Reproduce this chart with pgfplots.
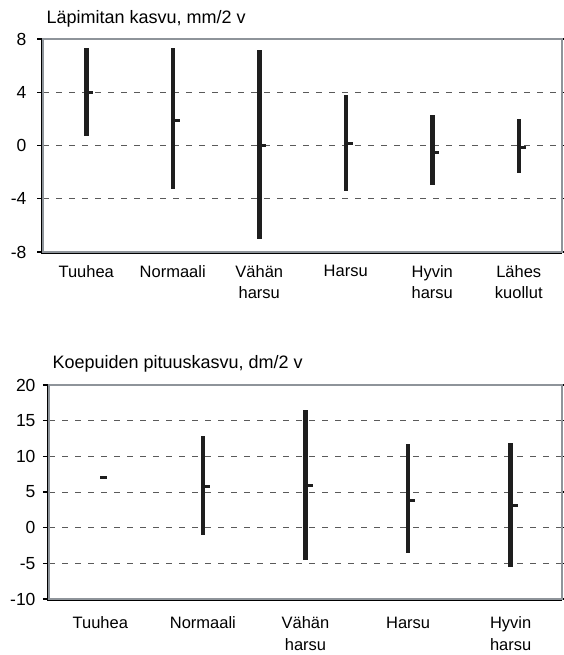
\documentclass[border=0pt]{standalone}
\usepackage{pgfplots}
\pgfplotsset{compat=1.18}
\usepackage{pgfplotstable}
\usepackage{fontspec}
\setmainfont{Liberation Sans}
\definecolor{frame}{HTML}{8E949A}
\definecolor{gridc}{HTML}{5A5A5A}
\definecolor{barc}{HTML}{1E1E1E}
\pgfdeclareplotmark{meandash}{%
  \pgfpathmoveto{\pgfqpoint{0pt}{0pt}}%
  \pgfpathlineto{\pgfqpoint{7pt}{0pt}}%
  \pgfusepathqstroke}

\pgfplotstableread{
x low high mean
1 0.73 7.35 3.95
2 -3.3 7.3 1.85
3 -7.0 7.2 0.0
4 -3.4 3.8 0.12
5 -3.0 2.3 -0.5
6 -2.1 2.0 -0.13
}\topdata

\pgfplotstableread{
x low high mean
1 7.05 7.05 7.05
2 -1.0 12.9 5.8
3 -4.5 16.5 5.9
4 -3.6 11.7 3.85
5 -5.45 11.85 3.1
}\botdata

\pgfplotsset{mystyle/.style={
  scale only axis,
  axis line style={draw=frame, line width=1.6pt},
  ymajorgrids,
  grid style={draw=gridc, dash pattern=on 6pt off 7pt, line width=0.8pt},
  xtick style={draw=none},
  ytick style={draw=black, line width=1.1pt},
  tick align=outside,
  major tick length=6pt,
  ticklabel style={font=\fontsize{16.5}{21.5}\selectfont},
  yticklabel style={font=\fontsize{17.5}{21.5}\selectfont},
  xticklabel style={align=center},
  clip=false,
}}
\pgfplotsset{errstyle/.style={
  draw=none, mark=meandash, mark options={draw=barc, line width=3pt},
  error bars/.cd, y dir=both, y explicit, error mark=none,
  error bar style={draw=barc, line width=4.5pt}
}}

\begin{document}
\begin{tikzpicture}
\useasboundingbox (0,0) rectangle (563pt,-655pt);
% top chart
\begin{axis}[mystyle, name=top,
  at={(43pt,-252pt)}, anchor=south west,
  width=519pt, height=213pt,
  xmin=0.5, xmax=6.5, ymin=-8, ymax=8,
  xtick={1,2,3,4,5,6},
  xticklabels={Tuuhea, Normaali, {Vähän\\harsu}, Harsu, {Hyvin\\harsu}, {Lähes\\kuollut}},
  xticklabel style={yshift=-4pt},
  ytick={-8,-4,0,4,8},
  yticklabels={-8,-4,0,4,8},
  yticklabel style={xshift=-7pt},
]
\addplot[errstyle] table[x=x, y=mean,
  y error plus expr=\thisrow{high}-\thisrow{mean},
  y error minus expr=\thisrow{mean}-\thisrow{low}] {\topdata};
\draw[black, line width=0.8pt] ([xshift=-1.2pt]rel axis cs:0,1) -- ([xshift=-1.2pt,yshift=-1.2pt]rel axis cs:0,0) -- ([yshift=-1.2pt]rel axis cs:1,0);
\end{axis}
\node[anchor=base west, font=\fontsize{18}{22}\selectfont] at ([yshift=16pt]top.north west) {Läpimitan kasvu, mm/2 v};
% bottom chart
\begin{axis}[mystyle, name=bot,
  at={(49pt,-599pt)}, anchor=south west,
  width=513pt, height=214pt,
  xmin=0.5, xmax=5.5, ymin=-10, ymax=20,
  xtick={1,2,3,4,5},
  xticklabels={Tuuhea, Normaali, {Vähän\\harsu}, Harsu, {Hyvin\\harsu}},
  xticklabel style={yshift=-8.5pt},
  ytick={-10,-5,0,5,10,15,20},
  yticklabels={-10,-5,0,5,10,15,20},
  yticklabel style={xshift=-4pt},
]
\addplot[errstyle] table[x=x, y=mean,
  y error plus expr=\thisrow{high}-\thisrow{mean},
  y error minus expr=\thisrow{mean}-\thisrow{low}] {\botdata};
\draw[black, line width=0.8pt] ([xshift=-1.2pt]rel axis cs:0,1) -- ([xshift=-1.2pt,yshift=-1.2pt]rel axis cs:0,0) -- ([yshift=-1.2pt]rel axis cs:1,0);
\end{axis}
\node[anchor=base west, font=\fontsize{18}{22}\selectfont] at ([yshift=17pt]bot.north west) {Koepuiden pituuskasvu, dm/2 v};
\end{tikzpicture}
\end{document}
